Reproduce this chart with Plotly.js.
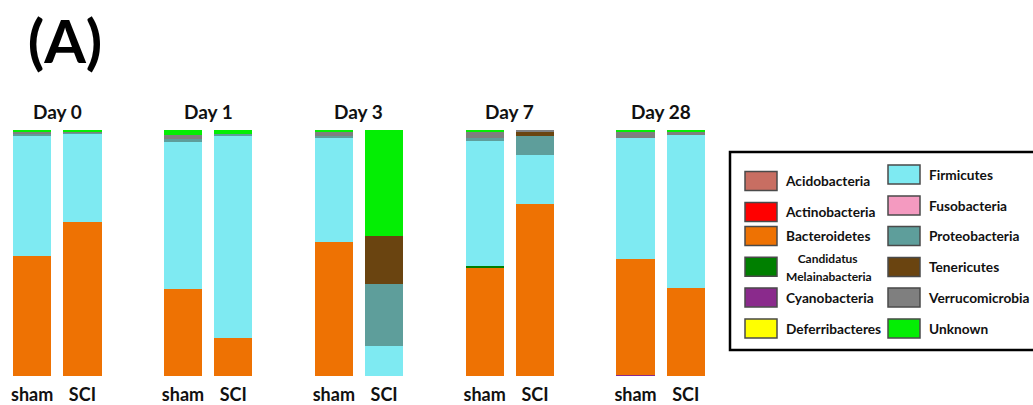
<!DOCTYPE html>
<html><head><meta charset="utf-8">
<script src="https://cdn.plot.ly/plotly-3.0.1.min.js"></script>
<style>html,body{margin:0;padding:0;background:#fff;}#chart{width:1033px;height:405px;}</style>
</head><body><div id="chart"></div>
<script>
// ---- data ----
const days = ['Day 0', 'Day 1', 'Day 3', 'Day 7', 'Day 28'];
const groups = ['sham', 'SCI'];
// bar order: D0 sham, D0 SCI, D1 sham, D1 SCI, D3 sham, D3 SCI, D7 sham, D7 SCI, D28 sham, D28 SCI  (relative abundance, %)
const acidobacteria   = [0, 0, 0, 0, 0, 0, 0, 0, 0, 0];
const actinobacteria  = [0, 0, 0, 0, 0, 0, 0, 0, 0, 0];
const bacteroidetes   = [48.6, 62.6, 35.3, 15.4, 54.5, 0, 44.3, 69.8, 47.0, 35.8];
const candidatus      = [0, 0, 0, 0, 0, 0, 0.5, 0, 0, 0];
const cyanobacteria   = [0, 0, 0, 0, 0, 0, 0, 0, 0.6, 0];
const deferribacteres = [0, 0, 0, 0, 0, 0, 0, 0, 0, 0];
const firmicutes      = [49.3, 36.0, 59.9, 82.4, 42.6, 12.1, 51.0, 20.0, 49.1, 62.3];
const fusobacteria    = [0, 0, 0, 0, 0, 0, 0, 0, 0, 0];
const proteobacteria  = [0.8, 0.5, 1.2, 0.4, 0.6, 25.3, 0.8, 7.6, 0, 0];
const tenericutes     = [0, 0, 0, 0, 0, 19.4, 0, 1.6, 0, 0];
const verrucomicrobia = [0.4, 0.3, 1.4, 0, 1.3, 0, 2.4, 1.0, 2.8, 1.3];
const unknown         = [0.9, 0.6, 2.2, 1.8, 1.0, 43.2, 1.0, 0, 0.5, 0.6];

const phyla = ['Acidobacteria', 'Actinobacteria', 'Bacteroidetes', 'Candidatus Melainabacteria', 'Cyanobacteria', 'Deferribacteres',
               'Firmicutes', 'Fusobacteria', 'Proteobacteria', 'Tenericutes', 'Verrucomicrobia', 'Unknown'];
const values = [acidobacteria, actinobacteria, bacteroidetes, candidatus, cyanobacteria, deferribacteres,
                firmicutes, fusobacteria, proteobacteria, tenericutes, verrucomicrobia, unknown];

// ---- styling ----
const colors = ['#C86E62', '#FF0000', '#EE7203', '#007F00', '#8A2A8C', '#FFFF00',
                '#7EEAF2', '#F49AC0', '#5E9E9B', '#6A4410', '#7F7F7F', '#04EE04'];
const stackOrder = [4, 0, 1, 2, 3, 5, 6, 7, 8, 9, 10, 11]; // bottom -> top
const legendLabels = phyla.map(p => p === 'Candidatus Melainabacteria'
  ? '<span style="font-size:12px">&nbsp;&nbsp;&nbsp;&nbsp;Candidatus<br>Melainabacteria</span>' : p);
// legend placement (column, pixel centre y)
const legendCol = [0, 0, 0, 0, 0, 0, 1, 1, 1, 1, 1, 1];
const legendPy  = [181, 212, 236, 267, 297.5, 328.5, 174.5, 205.5, 236, 267, 297.5, 328.5];

const W = 1033, H = 405, mL = 7, mR = 313, mT = 130, mB = 29;
const pw = W - mL - mR, ph = H - mT - mB;
const toPx = px => (px - mL) / pw;
const toPy = py => 1 - (py - mT) / ph;

const xpos = [], tickText = [];
days.forEach((d, i) => groups.forEach((g, j) => { xpos.push(i * 3 + j); tickText.push(g); }));

const legendKey = k => k === 0 ? 'legend' : 'legend' + (k + 1);
const traces = stackOrder.map(k => ({
  type: 'bar', name: legendLabels[k], x: xpos, y: values[k], width: 0.76,
  marker: { color: colors[k], line: { width: 0 } },
  legend: legendKey(k), hoverinfo: 'name+y'
}));

const layout = {
  width: W, height: H,
  margin: { l: mL, r: mR, t: mT, b: mB, autoexpand: false },
  paper_bgcolor: '#fff', plot_bgcolor: '#fff',
  barmode: 'stack', showlegend: true,
  font: { family: 'Lato, "Open Sans", sans-serif', color: '#111' },
  title: { text: '(A)', xref: 'container', yref: 'container', x: 65 / W, xanchor: 'center', y: 1 - 42 / H, yanchor: 'middle',
           font: { family: 'Lato, sans-serif', size: 60, weight: 'bold', color: '#000' } },
  xaxis: { range: [-0.5, -0.5 + 14.18], tickvals: xpos, ticktext: tickText, ticklen: 0, ticklabelstandoff: 6,
           showgrid: false, zeroline: false, showline: false,
           tickfont: { family: 'Lato, sans-serif', size: 18, weight: 'bold', color: '#111' } },
  yaxis: { range: [0, 100], visible: false, showgrid: false, zeroline: false },
  annotations: days.map((d, i) => ({ text: d, xref: 'x', yref: 'paper', x: i * 3 + 0.5, y: toPy(111), yanchor: 'middle',
           showarrow: false, font: { family: 'Lato, sans-serif', size: 19, weight: 'bold', color: '#111' } })),
  shapes: [{ type: 'rect', xref: 'paper', yref: 'paper', x0: toPx(730), x1: toPx(1045), y0: toPy(350), y1: toPy(152),
             line: { color: '#000', width: 2.5 }, fillcolor: 'rgba(0,0,0,0)' }]
};
phyla.forEach((p, k) => {
  layout[legendKey(k)] = {
    x: toPx(legendCol[k] === 0 ? 736 : 879), xanchor: 'left', xref: 'paper',
    y: toPy(legendPy[k]), yanchor: 'middle', yref: 'paper',
    bgcolor: 'rgba(0,0,0,0)', borderwidth: 0, itemwidth: 40, itemclick: false, itemdoubleclick: false,
    font: { family: 'Lato, sans-serif', size: 13.7, weight: 'bold', color: '#111' }
  };
});

Plotly.newPlot('chart', traces, layout, { displayModeBar: false }).then(gd => {
  gd.querySelectorAll('.legendpoints path').forEach(p => {
    p.setAttribute('d', 'M16,9.5H-16V-9.5H16Z');
    p.style.stroke = '#4a4a4a';
    p.style.strokeWidth = '1.5px';
  });
});
</script>
</body></html>
